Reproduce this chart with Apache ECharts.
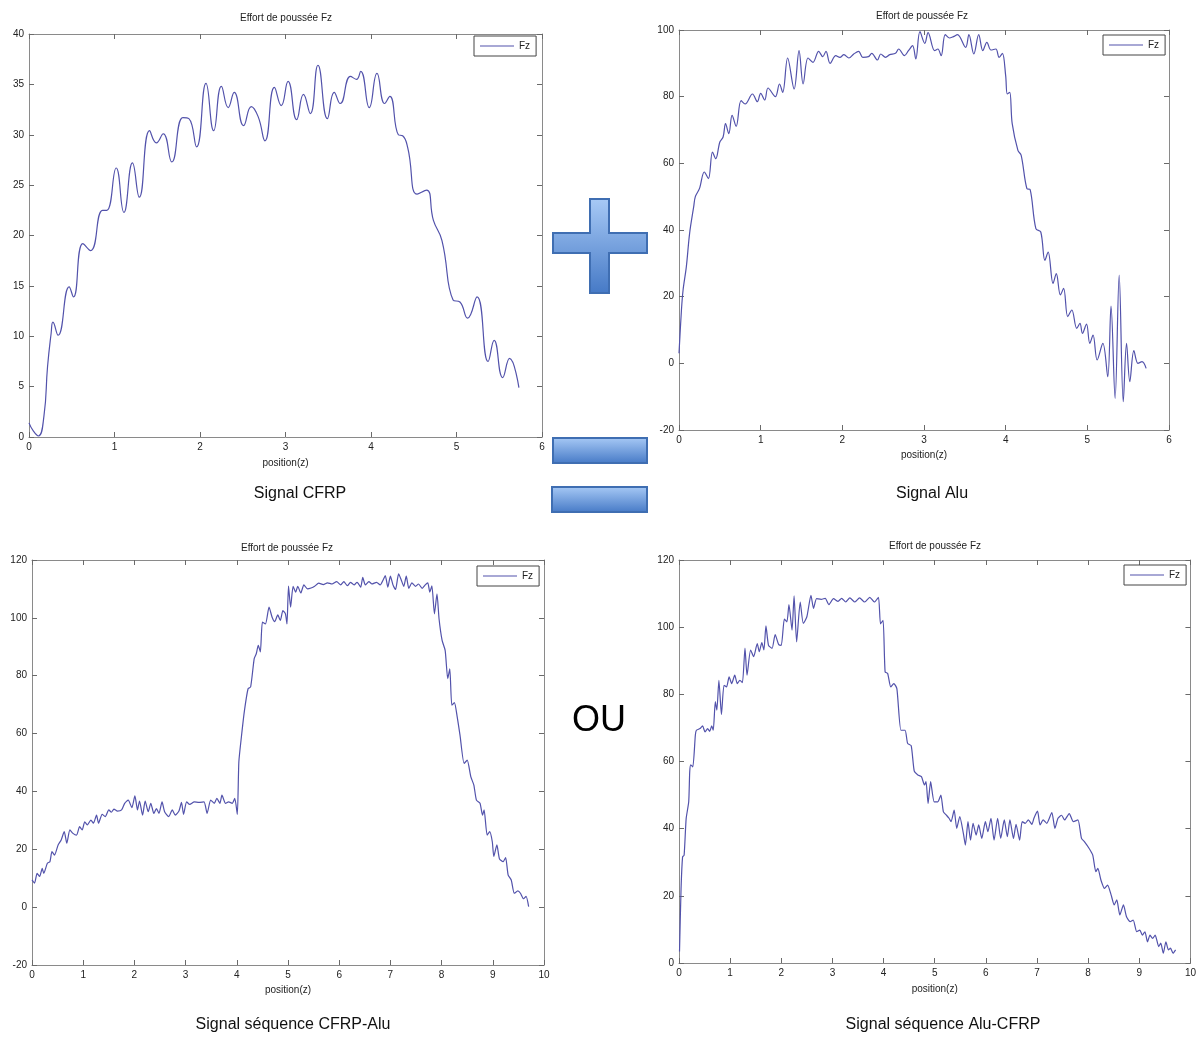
<!DOCTYPE html>
<html>
<head>
<meta charset="utf-8">
<script src="https://cdn.jsdelivr.net/npm/echarts@6/dist/echarts.min.js"></script>
<style>
html, body { margin: 0; padding: 0; background: #fff; }
#chart { width: 1199px; height: 1037px; }
</style>
</head>
<body>
<div id="chart"></div>
<script>
// [position(z), Fz]
var cfrpSignal = [
  [0,1.4],[0.05,0.6],[0.11,0.1],[0.175,2.1],[0.217,7.0],[0.259,10.3],[0.28,11.4],[0.34,10.1],
  [0.47,14.9],[0.52,13.9],[0.63,19.2],[0.72,18.5],[0.86,22.5],[0.91,22.5],[1.02,26.7],[1.11,22.3],
  [1.21,27.2],[1.29,23.8],[1.41,30.4],[1.49,29.2],[1.57,30.1],[1.67,27.3],[1.80,31.7],[1.87,31.6],
  [1.96,28.8],[2.07,35.1],[2.16,30.4],[2.25,34.8],[2.33,32.7],[2.40,34.2],[2.51,30.9],[2.60,32.8],
  [2.68,31.8],[2.76,29.4],[2.87,34.7],[2.95,32.9],[3.03,35.3],[3.13,31.5],[3.21,34.0],[3.29,32.1],
  [3.38,36.9],[3.49,31.6],[3.57,34.2],[3.64,33.1],[3.76,35.8],[3.83,35.5],[3.88,36.3],[3.98,32.7],
  [4.07,36.1],[4.16,33.1],[4.22,33.8],[4.32,30.0],[4.37,29.9],[4.43,28.7],[4.54,24.1],[4.65,24.5],
  [4.73,21.5],[4.83,19.5],[4.96,13.6],[5.04,13.4],[5.13,11.8],[5.24,13.9],[5.37,7.5],[5.44,9.6],
  [5.54,5.9],[5.62,7.8],[5.73,4.9]
];

var aluSignal = [
  [0,3],[0.03,16],[0.05,22],[0.09,29],[0.13,39],[0.18,47],[0.20,50],[0.25,52.4],[0.31,57.4],[0.36,55.4],
  [0.41,63.4],[0.45,61.4],[0.50,66.4],[0.54,67.9],[0.57,71.9],[0.61,68.9],[0.65,74.4],[0.70,71.1],[0.76,78.8],[0.81,77.8],
  [0.90,80.8],[0.96,78.5],[1.00,81.0],[1.05,79.0],[1.09,82.6],[1.18,80.0],[1.23,83.8],[1.27,81.3],[1.33,91.6],[1.41,82.3],
  [1.47,93.8],[1.52,83.8],[1.58,91.6],[1.64,90.3],[1.71,93.6],[1.76,92.0],[1.80,93.6],[1.85,90.0],[1.92,92.3],[1.97,91.8],
  [2.02,92.6],[2.08,91.6],[2.14,92.8],[2.20,93.6],[2.25,91.8],[2.32,92.0],[2.36,93.0],[2.43,91.0],[2.47,92.8],[2.53,91.8],
  [2.58,92.6],[2.65,93.0],[2.69,94.3],[2.76,92.3],[2.81,93.8],[2.86,95.3],[2.90,91.3],[2.95,99.5],[3.01,96.0],[3.05,99.2],
  [3.13,93.8],[3.17,94.3],[3.21,92.3],[3.26,98.6],[3.31,97.6],[3.36,98.0],[3.41,98.6],[3.51,94.8],[3.55,98.6],[3.61,92.8],
  [3.67,98.6],[3.72,93.8],[3.77,96.3],[3.82,94.0],[3.88,94.3],[3.92,91.8],[3.96,93.0],[4.00,86.3],[4.02,80.8],[4.05,81.3],
  [4.08,71.9],[4.15,63.9],[4.19,62.4],[4.26,52.4],[4.30,52.1],[4.37,40.4],[4.43,39.4],[4.48,30.9],[4.52,33.4],[4.58,24.0],
  [4.62,26.9],[4.67,20.5],[4.71,22.5],[4.76,14.0],[4.81,16.0],[4.87,10.5],[4.91,12.0],[4.94,9.0],[4.99,11.8],[5.03,6.0],
  [5.07,8.5],[5.12,1.0],[5.19,6.0],[5.25,-4.0],[5.29,17.2],[5.34,-10.5],[5.39,26.5],[5.44,-11.5],[5.48,6.0],[5.52,-5.5],
  [5.57,3.8],[5.62,0],[5.67,0.5],[5.72,-1.5]
];

var cfrpAluSignal = [
  [0,9.4],[0.05,8.3],[0.10,11.7],[0.15,10.6],[0.20,13.4],[0.23,11.7],[0.30,15.2],[0.35,15.7],[0.39,19.2],[0.44,18.0],
  [0.51,21.5],[0.57,23.2],[0.63,26.1],[0.68,22.1],[0.74,26.7],[0.80,25.5],[0.87,24.9],[0.93,27.8],[0.98,26.7],[1.03,29.5],
  [1.08,28.4],[1.15,30.1],[1.20,29.0],[1.26,31.8],[1.30,29.0],[1.37,32.1],[1.43,31.3],[1.50,33.6],[1.55,32.8],[1.60,33.9],
  [1.67,33.2],[1.75,33.6],[1.81,35.9],[1.88,37.0],[1.95,34.4],[2.01,38.5],[2.06,33.6],[2.10,36.7],[2.16,31.8],[2.21,36.7],
  [2.27,33.0],[2.32,35.9],[2.38,32.4],[2.43,34.1],[2.48,32.4],[2.54,36.4],[2.59,33.0],[2.67,31.3],[2.74,33.6],[2.80,31.8],
  [2.87,33.2],[2.92,36.2],[2.96,32.1],[3.02,36.4],[3.08,35.5],[3.17,36.4],[3.26,36.2],[3.36,36.4],[3.42,32.4],[3.49,37.0],
  [3.56,35.9],[3.61,37.6],[3.67,35.9],[3.71,38.7],[3.78,35.9],[3.84,36.4],[3.91,35.9],[3.96,37.6],[4.01,32.1],[4.04,50.2],
  [4.09,58.9],[4.15,68.0],[4.22,75.5],[4.27,76.1],[4.34,85.9],[4.38,87.6],[4.42,90.5],[4.46,88.2],[4.50,98.5],[4.56,97.9],
  [4.63,103.7],[4.69,100.2],[4.74,98.7],[4.80,101.0],[4.85,99.1],[4.90,102.5],[4.95,101.4],[4.98,97.9],[5.01,111.0],[5.05,103.7],
  [5.10,110.9],[5.15,108.9],[5.19,110.9],[5.25,108.6],[5.31,111.4],[5.38,110.0],[5.45,110.3],[5.52,110.9],[5.60,112.0],[5.69,111.5],
  [5.77,112.1],[5.86,111.7],[5.95,112.5],[6.03,111.4],[6.09,112.5],[6.16,111.1],[6.22,112.3],[6.29,111.4],[6.35,112.3],[6.42,110.6],
  [6.46,114.0],[6.51,111.4],[6.58,112.5],[6.64,111.7],[6.73,112.3],[6.80,111.4],[6.86,113.2],[6.90,114.6],[6.95,110.6],[7.00,114.4],
  [7.05,111.4],[7.10,109.8],[7.16,115.2],[7.21,113.2],[7.26,110.9],[7.31,114.4],[7.36,110.2],[7.42,112.1],[7.49,110.9],[7.55,111.7],
  [7.62,110.2],[7.68,111.4],[7.73,112.1],[7.77,108.9],[7.81,111.1],[7.86,101.4],[7.91,108.3],[7.95,99.7],[8.01,92.2],[8.07,88.7],
  [8.12,79.0],[8.16,82.4],[8.20,69.8],[8.25,70.7],[8.30,66.3],[8.36,59.4],[8.44,49.7],[8.50,50.8],[8.57,45.1],[8.63,42.2],
  [8.68,37.0],[8.75,35.9],[8.80,31.8],[8.83,33.6],[8.89,24.9],[8.94,26.1],[8.99,22.6],[9.02,17.5],[9.08,21.5],[9.13,16.7],
  [9.20,15.7],[9.25,17.1],[9.30,11.1],[9.36,9.4],[9.42,4.8],[9.49,5.6],[9.54,4.8],[9.60,2.9],[9.65,3.7],[9.70,0.2]
];

var aluCfrpSignal = [
  [0.01,3.4],[0.04,22],[0.07,31.6],[0.10,32.1],[0.14,43],[0.19,48],[0.21,57],[0.23,59],[0.27,58.4],[0.32,67.9],
  [0.34,69.3],[0.41,69.8],[0.46,70.6],[0.51,68.8],[0.56,69.8],[0.60,69.0],[0.64,70.6],[0.67,69.3],[0.71,77.8],[0.74,75.3],
  [0.78,84.2],[0.83,74.0],[0.88,82.7],[0.93,82.2],[0.98,85.2],[1.03,83.2],[1.09,85.7],[1.14,83.2],[1.19,84.2],[1.24,83.5],
  [1.29,93.8],[1.33,85.7],[1.40,93.2],[1.46,91.2],[1.53,95.1],[1.57,92.7],[1.62,95.4],[1.66,93.2],[1.70,100.4],[1.75,94.6],
  [1.82,93.7],[1.88,97.8],[1.95,94.8],[2.00,94.6],[2.06,102.4],[2.11,101.6],[2.15,106.7],[2.21,99.1],[2.25,109.3],[2.30,95.6],
  [2.37,107.5],[2.43,101.1],[2.50,103.1],[2.58,109.5],[2.63,105.6],[2.69,108.5],[2.78,108.3],[2.86,108.6],[2.93,106.7],[3.02,108.5],
  [3.11,107.7],[3.18,108.6],[3.26,107.5],[3.34,108.7],[3.44,107.5],[3.53,108.7],[3.63,107.5],[3.73,108.9],[3.82,107.5],[3.90,108.9],
  [3.94,101.0],[3.99,102.0],[4.03,86.7],[4.08,86.2],[4.14,82.2],[4.20,83.2],[4.26,81.7],[4.34,69.3],[4.42,69.3],[4.47,65.4],
  [4.54,64.7],[4.60,57.1],[4.67,56.0],[4.74,55.5],[4.80,53.0],[4.83,54.0],[4.87,47.5],[4.92,54.0],[4.99,48.0],[5.06,48.0],
  [5.12,50.0],[5.17,45.0],[5.23,44.0],[5.28,43.1],[5.32,42.1],[5.38,45.5],[5.43,40.1],[5.49,43.6],[5.56,38.6],[5.60,35.1],
  [5.65,42.1],[5.70,36.6],[5.75,41.6],[5.81,38.1],[5.86,41.1],[5.92,37.1],[5.99,42.1],[6.04,39.1],[6.10,43.1],[6.16,36.6],
  [6.23,43.1],[6.29,37.1],[6.36,42.6],[6.42,37.6],[6.47,42.6],[6.54,37.1],[6.59,41.3],[6.66,36.6],[6.71,42.1],[6.77,41.6],
  [6.83,42.6],[6.90,41.3],[6.94,43.1],[7.01,45.2],[7.06,41.1],[7.12,42.6],[7.19,41.6],[7.29,44.8],[7.35,40.1],[7.41,43.1],
  [7.48,44.0],[7.54,42.6],[7.63,44.5],[7.71,42.1],[7.80,42.6],[7.87,37.1],[7.93,36.1],[8.02,34.1],[8.09,32.1],[8.15,27.2],
  [8.19,28.2],[8.25,24.7],[8.32,22.2],[8.38,23.2],[8.45,20.2],[8.51,17.3],[8.56,18.8],[8.62,14.3],[8.69,17.3],[8.75,13.8],
  [8.82,12.3],[8.88,12.8],[8.95,9.3],[9.01,9.8],[9.06,8.3],[9.11,9.3],[9.16,6.3],[9.21,8.3],[9.26,7.3],[9.31,8.3],
  [9.38,4.9],[9.42,5.9],[9.47,2.9],[9.52,6.3],[9.57,3.9],[9.61,4.4],[9.66,2.9],[9.71,3.9]
];

var plotTitle = 'Effort de poussée Fz';
var xName = 'position(z)';
var captions = ['Signal CFRP', 'Signal Alu', 'Signal séquence CFRP-Alu', 'Signal séquence Alu-CFRP'];

var FONT = '"Liberation Sans", Arial, sans-serif';
var LINE = '#5252ab';

var plots = [
  { data: cfrpSignal, grid: {left: 29, top: 34, width: 513, height: 403}, xMax: 6, yMin: 0, yMax: 40, yStep: 5,
    nameGap: 21, smooth: 0.5, legend: [474, 36], title: [286, 18], caption: [300, 494] },
  { data: aluSignal, grid: {left: 679, top: 30, width: 490, height: 400}, xMax: 6, yMin: -20, yMax: 100, yStep: 20,
    nameGap: 20, smooth: 0.35, legend: [1103, 35], title: [922, 16], caption: [932, 494] },
  { data: cfrpAluSignal, grid: {left: 32, top: 560, width: 512, height: 405}, xMax: 10, yMin: -20, yMax: 120, yStep: 20,
    nameGap: 20, smooth: 0.2, legend: [477, 566], title: [287, 548], caption: [293, 1025] },
  { data: aluCfrpSignal, grid: {left: 679, top: 560, width: 514, height: 403}, xMax: 10, yMin: 0, yMax: 120, yStep: 20,
    nameGap: 21, smooth: 0.2, legend: [1124, 565], title: [935, 546], caption: [943, 1025] }
];

function axisBase(show) {
  return {
    axisLine: { show: true, onZero: false, lineStyle: { color: '#8a8a8a', width: 1 } },
    axisTick: { show: true, inside: true, length: 5, lineStyle: { color: '#6a6a6a' } },
    splitLine: { show: false },
    axisLabel: { show: show, color: '#222', fontSize: 10, fontFamily: FONT, margin: 5 }
  };
}

var xAxes = [], yAxes = [], series = [], legends = [], graphics = [];

plots.forEach(function (p, i) {
  var bx = axisBase(true);
  bx.gridIndex = i; bx.type = 'value'; bx.position = 'bottom';
  bx.min = 0; bx.max = p.xMax; bx.interval = 1;
  bx.name = xName; bx.nameLocation = 'middle'; bx.nameGap = p.nameGap;
  bx.nameTextStyle = { color: '#222', fontSize: 10, fontFamily: FONT };
  var tx = axisBase(false);
  tx.gridIndex = i; tx.type = 'value'; tx.position = 'top';
  tx.min = 0; tx.max = p.xMax; tx.interval = 1;
  xAxes.push(bx, tx);

  var ly = axisBase(true);
  ly.gridIndex = i; ly.type = 'value'; ly.position = 'left';
  ly.min = p.yMin; ly.max = p.yMax; ly.interval = p.yStep;
  var ry = axisBase(false);
  ry.gridIndex = i; ry.type = 'value'; ry.position = 'right';
  ry.min = p.yMin; ry.max = p.yMax; ry.interval = p.yStep;
  yAxes.push(ly, ry);

  series.push({
    type: 'line',
    name: 'Fz',
    xAxisIndex: 2 * i,
    yAxisIndex: 2 * i,
    data: p.data,
    showSymbol: false,
    symbol: 'none',
    smooth: p.smooth,
    silent: true,
    animation: false,
    lineStyle: { color: LINE, width: 1.2 },
    itemStyle: { color: LINE }
  });

  legends.push({
    data: ['Fz'],
    left: p.legend[0],
    top: p.legend[1],
    orient: 'horizontal',
    selectedMode: false,
    icon: 'rect',
    itemWidth: 34,
    itemHeight: 1,
    padding: [5, 6, 5, 6],
    borderColor: '#444',
    borderWidth: 1,
    backgroundColor: '#fff',
    itemStyle: { color: LINE },
    textStyle: { color: '#222', fontSize: 10, fontFamily: FONT }
  });

  graphics.push({
    type: 'text', x: p.title[0], y: p.title[1],
    style: { text: plotTitle, font: '10px ' + FONT, fill: '#222',
      align: 'center', verticalAlign: 'middle', textAlign: 'center', textVerticalAlign: 'middle' }
  });
  graphics.push({
    type: 'text', x: p.caption[0], y: p.caption[1],
    style: { text: captions[i], font: '16px ' + FONT, fill: '#111',
      align: 'center', verticalAlign: 'middle', textAlign: 'center', textVerticalAlign: 'middle' }
  });
});

// blue "+" and "=" signs between the panels
function blueFill() {
  return new echarts.graphic.LinearGradient(0, 0, 0, 1, [
    { offset: 0, color: '#a8caf6' },
    { offset: 1, color: '#4579c6' }
  ]);
}
graphics.push({
  type: 'polygon',
  shape: { points: [[590,199],[609,199],[609,233],[647,233],[647,253],[609,253],[609,293],[590,293],[590,253],[553,253],[553,233],[590,233]] },
  style: { fill: blueFill(), stroke: '#3f6eb2', lineWidth: 2 }
});
graphics.push({
  type: 'rect', shape: { x: 553, y: 438, width: 94, height: 25 },
  style: { fill: blueFill(), stroke: '#3f6eb2', lineWidth: 2 }
});
graphics.push({
  type: 'rect', shape: { x: 552, y: 487, width: 95, height: 25 },
  style: { fill: blueFill(), stroke: '#3f6eb2', lineWidth: 2 }
});
graphics.push({
  type: 'text', x: 599, y: 721,
  style: { text: 'OU', font: '36px ' + FONT, fill: '#000',
    align: 'center', verticalAlign: 'middle', textAlign: 'center', textVerticalAlign: 'middle' }
});

var chart = echarts.init(document.getElementById('chart'));
chart.setOption({
  animation: false,
  backgroundColor: '#fff',
  grid: plots.map(function (p) { return p.grid; }),
  xAxis: xAxes,
  yAxis: yAxes,
  legend: legends,
  series: series,
  graphic: graphics
});
</script>
</body>
</html>
